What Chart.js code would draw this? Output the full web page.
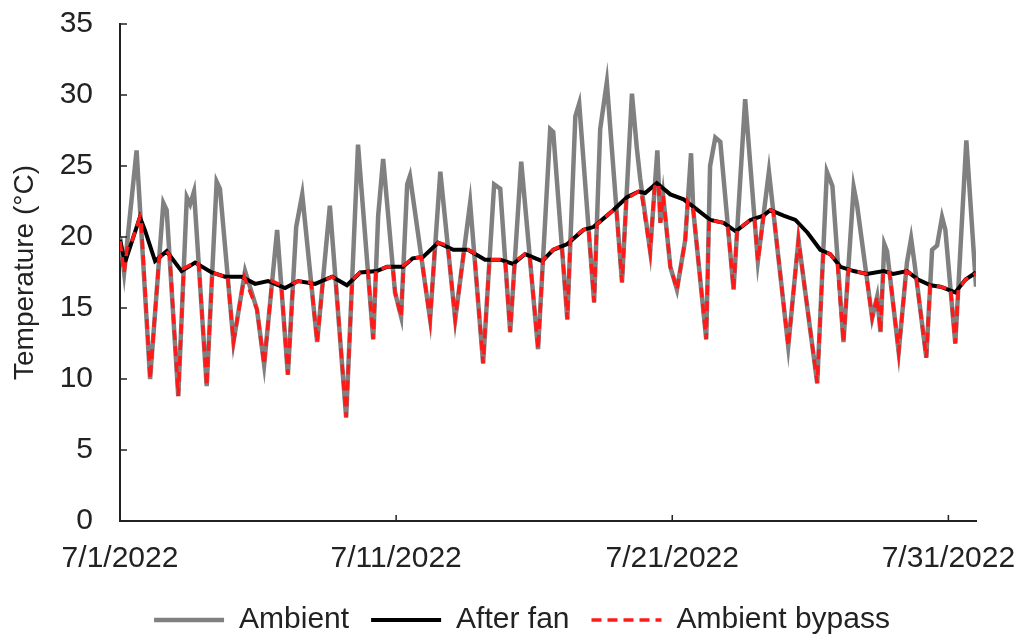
<!DOCTYPE html>
<html>
<head>
<meta charset="utf-8">
<title>Temperature - July 2022</title>
<script src="https://cdn.jsdelivr.net/npm/chart.js@4.4.0/dist/chart.umd.min.js"></script>
<style>
  html, body { margin: 0; padding: 0; background: #fff; }
  #wrap { width: 1023px; height: 637px; }
</style>
</head>
<body>
<div id="wrap"><canvas id="tempChart" width="1023" height="637"></canvas></div>
<script>
// --- Data (x = days since 7/1/2022 00:00, y = °C) ---
const xTickDays = [0, 10, 20, 30];
const xTickLabels = ['7/1/2022', '7/11/2022', '7/21/2022', '7/31/2022'];
const yTickValues = [0, 5, 10, 15, 20, 25, 30, 35];

const ambientDays = [
    0, 0.15, 0.6, 1.09, 1.57, 1.69, 2.11, 2.42, 2.54, 2.68,
    3.14, 3.5, 3.62, 4.11, 4.53, 4.96, 5.22, 5.69, 6.08, 6.38,
    6.6, 7.14, 7.6, 8.19, 8.62, 9.17, 9.35, 9.53, 9.96, 10.18,
    10.4, 10.5, 11.23, 11.6, 12.14, 12.68, 13.15, 13.55, 13.77, 14.13,
    14.53, 15.14, 15.58, 15.69, 16.2, 16.49, 16.63, 17.17, 17.39, 17.63,
    18.18, 18.54, 18.72, 18.84, 19.2, 19.46, 19.57, 19.67, 19.93, 20.17,
    20.47, 20.68, 20.76, 21.23, 21.37, 21.56, 21.74, 22.22, 22.64, 23.1,
    23.5, 24.2, 24.57, 25.25, 25.6, 25.8, 26.2, 26.57, 26.69, 27.24,
    27.42, 27.54, 27.68, 27.78, 28.2, 28.5, 28.65, 28.77, 29.2, 29.41,
    29.59, 29.77, 29.89, 30.25, 30.65, 31
];
const ambientTemps = [
    20.0, 17.5, 26.1, 10.0, 22.4, 21.9, 8.8, 22.8, 22.3, 23.2,
    9.5, 23.9, 23.4, 12.6, 17.6, 14.9, 11.0, 20.5, 10.3, 20.7,
    23.0, 12.6, 22.2, 7.3, 26.5, 12.8, 21.5, 25.5, 16.1, 14.4,
    23.7, 24.3, 14.2, 24.6, 14.2, 22.4, 11.1, 23.7, 23.4, 13.3,
    25.3, 12.1, 27.6, 27.4, 14.2, 28.5, 29.4, 15.4, 27.6, 30.9,
    16.8, 30.1, 26.2, 24.1, 19.0, 26.1, 21.0, 22.9, 17.9, 16.3,
    19.8, 25.9, 21.9, 12.8, 25.0, 27.0, 26.7, 16.3, 29.7, 18.3,
    24.6, 12.3, 19.8, 9.7, 24.6, 23.6, 12.6, 23.5, 22.3, 14.3,
    15.8, 13.3, 19.5, 19.0, 11.9, 18.2, 19.9, 18.2, 11.5, 19.1,
    19.4, 21.4, 20.5, 12.5, 26.8, 16.5
];

const afterFanDays = [
    0, 0.18, 0.45, 0.72, 0.9, 1.27, 1.69, 2.23, 2.72, 3.32,
    3.8, 4.41, 4.89, 5.36, 5.98, 6.45, 7.07, 7.68, 8.22, 8.7,
    9.3, 9.67, 10.25, 10.6, 10.98, 11.52, 12.07, 12.6, 13.22, 13.77,
    14.24, 14.67, 15.29, 15.69, 16.2, 16.78, 17.14, 17.39, 17.87, 18.36,
    18.78, 19.02, 19.44, 19.93, 20.41, 20.89, 21.38, 21.86, 22.3, 22.83,
    23.3, 23.55, 24.03, 24.46, 24.9, 25.36, 25.72, 26.09, 26.57, 27.05,
    27.66, 28.0, 28.5, 28.9, 29.35, 29.71, 30.25, 30.62, 31
];
const afterFanTemps = [
    19.8, 18.2, 19.8, 21.4, 20.5, 18.3, 19.0, 17.6, 18.2, 17.5,
    17.2, 17.2, 16.7, 16.9, 16.4, 16.9, 16.7, 17.2, 16.6, 17.5,
    17.6, 17.9, 17.9, 18.5, 18.6, 19.6, 19.1, 19.1, 18.4, 18.4,
    18.1, 18.8, 18.3, 19.1, 19.5, 20.5, 20.7, 21.1, 21.9, 22.8,
    23.2, 23.1, 23.8, 23.0, 22.65, 21.95, 21.2, 21.0, 20.4, 21.2,
    21.5, 21.9, 21.5, 21.2, 20.3, 19.1, 18.8, 17.9, 17.6, 17.4,
    17.6, 17.4, 17.6, 17.0, 16.6, 16.5, 16.1, 17.0, 17.5
];

const bypassDays = [
    0, 0.15, 0.26, 0.45, 0.72, 0.77, 1.09, 1.42, 1.69, 1.8, 2.11,
    2.31, 2.72, 2.85, 3.14, 3.34, 3.8, 3.9, 4.11, 4.5, 4.96,
    5.22, 5.51, 5.84, 6.08, 6.27, 6.45, 6.92, 7.14, 7.35, 7.68,
    7.81, 8.19, 8.41, 8.7, 8.98, 9.17, 9.27, 9.67, 9.88, 9.96,
    10.18, 10.27, 10.6, 10.91, 11.23, 11.4, 11.52, 11.87, 12.14, 12.46,
    12.6, 12.83, 13.15, 13.38, 13.77, 13.95, 14.13, 14.3, 14.67, 14.84,
    15.14, 15.32, 15.69, 16.0, 16.2, 16.31, 16.78, 16.97, 17.17, 17.27,
    17.87, 17.97, 18.18, 18.34, 18.78, 18.88, 19.2, 19.36, 19.44, 19.51,
    19.57, 19.67, 19.93, 20.17, 20.47, 20.56, 20.76, 21.23, 21.33,
    21.86, 22.01, 22.22, 22.35, 22.83, 22.98, 23.1, 23.31, 23.55, 23.66,
    24.2, 24.57, 25.25, 25.47, 25.72, 25.98, 26.2, 26.38, 27.02, 27.24,
    27.42, 27.54, 27.64, 27.87, 28.2, 28.47, 28.83, 29.2, 29.34, 29.71,
    30.08, 30.25, 30.36, 30.62, 30.97, 31
];
const bypassTemps = [
    19.7, 17.5, 19.2, 19.8, 21.4, 21.0, 10.0, 18.6, 19.0, 18.7, 8.8,
    17.8, 18.2, 18.1, 9.5, 17.5, 17.2, 17.2, 12.6, 17.2, 14.9,
    11.0, 16.9, 16.6, 10.3, 16.7, 16.9, 16.8, 12.6, 16.9, 17.2,
    17.0, 7.3, 17.0, 17.5, 17.6, 12.8, 17.6, 17.9, 17.9, 16.1,
    14.4, 18.0, 18.5, 18.6, 14.2, 19.2, 19.6, 19.4, 14.2, 19.1,
    19.1, 18.9, 11.1, 18.4, 18.4, 18.3, 13.3, 18.3, 18.8, 18.6,
    12.1, 18.4, 19.1, 19.4, 14.2, 19.8, 20.5, 20.6, 15.4, 20.9,
    21.9, 22.0, 16.8, 22.7, 23.2, 23.1, 19.0, 23.5, 23.8, 23.6,
    21.0, 22.9, 17.9, 16.3, 19.8, 22.5, 21.9, 12.8, 21.2,
    21.0, 20.8, 16.3, 20.5, 21.2, 21.3, 18.3, 21.5, 21.9, 21.8,
    12.3, 19.8, 9.7, 19.0, 18.8, 18.1, 12.6, 17.7, 17.4, 14.3,
    15.8, 13.3, 17.6, 17.5, 11.9, 17.6, 17.2, 11.5, 16.6, 16.5,
    16.3, 12.5, 16.3, 17.0, 17.4, 17.4
];

// --- Helpers ---
const FONT = '"Liberation Sans", Arial, sans-serif';
const TEXT_COLOR = '#222';
const LEGEND_PAD = 22;
const toPoints = (days, temps) => days.map((d, i) => ({ x: d, y: temps[i] }));

// Excel-style tick marks pointing into the plot area
const innerTicks = {
    id: 'innerTicks',
    afterDatasetsDraw(chart) {
        const { ctx } = chart;
        const xs = chart.scales.x;
        const ys = chart.scales.y;
        ctx.save();
        ctx.strokeStyle = TEXT_COLOR;
        ctx.lineWidth = 1.5;
        ctx.beginPath();
        xTickDays.forEach(d => {
            const px = xs.getPixelForValue(d);
            ctx.moveTo(px, ys.bottom);
            ctx.lineTo(px, ys.bottom - 6);
        });
        yTickValues.forEach(v => {
            const py = ys.getPixelForValue(v);
            ctx.moveTo(xs.left, py);
            ctx.lineTo(xs.left + 7, py);
        });
        ctx.stroke();
        ctx.restore();
    }
};

// The legend needs wide gaps between items but little height,
// so move it down and re-centre it under the plot once layout is done
const legendShift = {
    id: 'legendShift',
    afterLayout(chart) {
        const lg = chart.legend;
        if (!lg) return;
        const h = lg.height;
        const dx = 34;
        lg.top = 620 - 15 - LEGEND_PAD;
        lg.bottom = lg.top + h;
        lg.left += dx;
        lg.right += dx;
    }
};

// hidden tick marks only used to space the labels away from the axis
const spacerGrid = len => ({
    display: true,
    drawOnChartArea: false,
    drawTicks: true,
    tickLength: len,
    tickColor: 'rgba(0,0,0,0)'
});

const ctx = document.getElementById('tempChart').getContext('2d');
new Chart(ctx, {
    type: 'line',
    data: {
        datasets: [
            {
                label: 'Ambient',
                data: toPoints(ambientDays, ambientTemps),
                borderColor: '#808080',
                borderWidth: 4.5,
                pointRadius: 0,
                pointStyle: 'line',
                tension: 0,
                order: 3
            },
            {
                label: 'After fan',
                data: toPoints(afterFanDays, afterFanTemps),
                borderColor: '#000000',
                borderWidth: 4,
                pointRadius: 0,
                pointStyle: 'line',
                tension: 0,
                order: 2
            },
            {
                label: 'Ambient bypass',
                data: toPoints(bypassDays, bypassTemps),
                borderColor: '#ff1a1a',
                borderWidth: 3.5,
                borderDash: [10, 6],
                pointRadius: 0,
                pointStyle: 'line',
                tension: 0,
                order: 1
            }
        ]
    },
    options: {
        responsive: false,
        animation: false,
        layout: { padding: { top: 24, right: 47, bottom: 0, left: 0 } },
        scales: {
            x: {
                type: 'linear',
                min: 0,
                max: 31,
                afterBuildTicks: s => { s.ticks = xTickDays.map(v => ({ value: v })); },
                afterFit: s => { s.height = 54; },
                grid: spacerGrid(20),
                border: { display: true, color: TEXT_COLOR, width: 2 },
                ticks: {
                    font: { family: FONT, size: 30 },
                    color: TEXT_COLOR,
                    padding: 0,
                    maxRotation: 0,
                    autoSkip: false,
                    callback: v => xTickLabels[xTickDays.indexOf(v)]
                }
            },
            y: {
                min: 0,
                max: 35,
                afterBuildTicks: s => { s.ticks = yTickValues.map(v => ({ value: v })); },
                afterFit: s => { s.width = 120; },
                grid: spacerGrid(27),
                border: { display: true, color: TEXT_COLOR, width: 2 },
                ticks: {
                    font: { family: FONT, size: 30 },
                    color: TEXT_COLOR,
                    padding: 0
                },
                title: {
                    display: true,
                    text: 'Temperature (°C)',
                    font: { family: FONT, size: 28 },
                    color: TEXT_COLOR,
                    padding: { top: 8, bottom: 0 }
                }
            }
        },
        plugins: {
            legend: {
                position: 'bottom',
                labels: {
                    usePointStyle: true,
                    pointStyleWidth: 70,
                    font: { family: FONT, size: 30 },
                    color: TEXT_COLOR,
                    padding: LEGEND_PAD,
                    sort: (a, b) => a.datasetIndex - b.datasetIndex,
                    // point styles carry no dash, so take stroke settings from the datasets
                    generateLabels: chart => {
                        const items = Chart.defaults.plugins.legend.labels.generateLabels(chart);
                        return items.map(item => {
                            const ds = chart.data.datasets[item.datasetIndex];
                            item.strokeStyle = ds.borderColor;
                            item.lineWidth = ds.borderWidth;
                            item.lineDash = ds.borderDash || [];
                            return item;
                        });
                    }
                }
            },
            tooltip: { enabled: false }
        }
    },
    plugins: [innerTicks, legendShift]
});
</script>
</body>
</html>
